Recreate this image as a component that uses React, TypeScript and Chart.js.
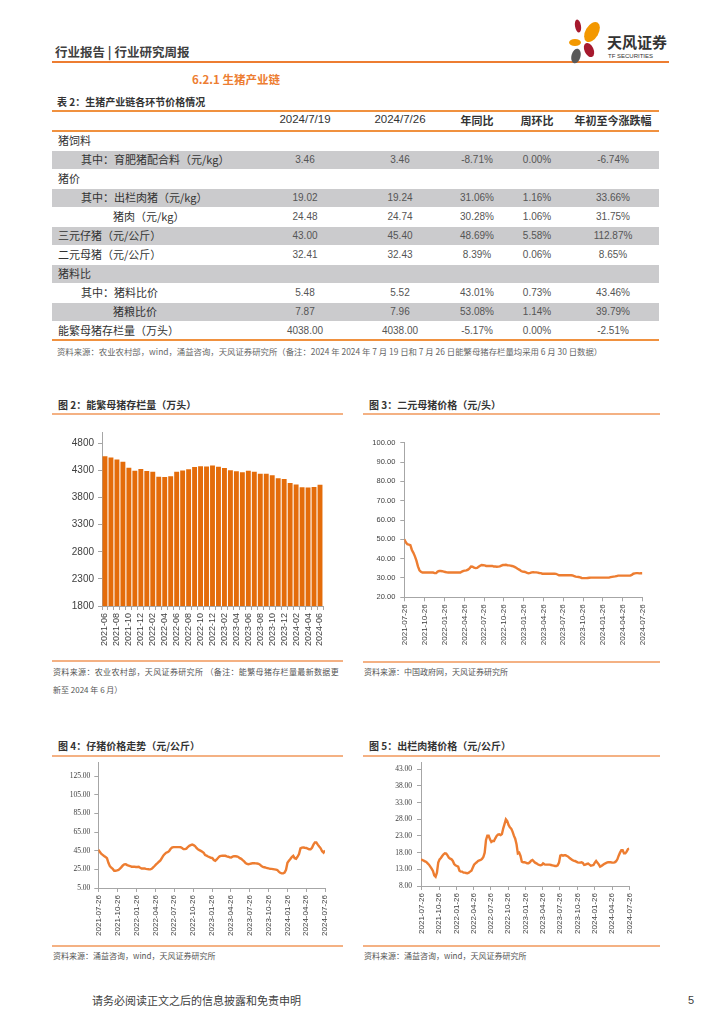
import React, { useEffect, useRef } from 'react';
import { Chart, registerables } from 'chart.js';
Chart.register(...registerables);

// ---------------- DATA ----------------
const tableHeaders = ['2024/7/19', '2024/7/26', '年同比', '周环比', '年初至今涨跌幅'];
const rowLabels = ['猪饲料', '其中：育肥猪配合料（元/kg）', '猪价', '其中：出栏肉猪（元/kg）', '猪肉（元/kg）', '三元仔猪（元/公斤）', '二元母猪（元/公斤）', '猪料比', '其中：猪料比价', '猪粮比价', '能繁母猪存栏量（万头）'];
const rowIndent = [0, 1, 0, 1, 2, 0, 0, 0, 1, 2, 0];
const rowShaded = [false, true, false, true, false, true, false, true, false, true, false];
const col0719 = ['', '3.46', '', '19.02', '24.48', '43.00', '32.41', '', '5.48', '7.87', '4038.00'];
const col0726 = ['', '3.46', '', '19.24', '24.74', '45.40', '32.43', '', '5.52', '7.96', '4038.00'];
const colYoY = ['', '-8.71%', '', '31.06%', '30.28%', '48.69%', '8.39%', '', '43.01%', '53.08%', '-5.17%'];
const colWoW = ['', '0.00%', '', '1.16%', '1.06%', '5.58%', '0.06%', '', '0.73%', '1.14%', '0.00%'];
const colYTD = ['', '-6.74%', '', '33.66%', '31.75%', '112.87%', '8.65%', '', '43.46%', '39.79%', '-2.51%'];

const sowMonths = ['2021-06', '2021-07', '2021-08', '2021-09', '2021-10', '2021-11', '2021-12',
  '2022-01', '2022-02', '2022-03', '2022-04', '2022-05', '2022-06', '2022-07', '2022-08', '2022-09', '2022-10', '2022-11', '2022-12',
  '2023-01', '2023-02', '2023-03', '2023-04', '2023-05', '2023-06', '2023-07', '2023-08', '2023-09', '2023-10', '2023-11', '2023-12',
  '2024-01', '2024-02', '2024-03', '2024-04', '2024-05', '2024-06'];
const sowStock = [4564, 4539, 4501, 4459, 4348, 4296, 4329,
  4290, 4274, 4185, 4177, 4192, 4277, 4298, 4324, 4362, 4379, 4375, 4390,
  4367, 4343, 4305, 4284, 4268, 4296, 4274, 4241, 4240, 4210, 4158, 4142,
  4067, 4042, 3992, 3986, 3996, 4038];
const sowStockTicks = [1800, 2300, 2800, 3300, 3800, 4300, 4800];

const weekStart = '2021-07-23';
const weekEnd = '2024-07-26';
const quarterTicks = ['2021-07-26', '2021-10-26', '2022-01-26', '2022-04-26', '2022-07-26', '2022-10-26', '2023-01-26', '2023-04-26', '2023-07-26', '2023-10-26', '2024-01-26', '2024-04-26', '2024-07-26'];

// 二元母猪价格 weekly
const sowPrice = [
  50.0, 48.5, 47.5, 47.3, 47.0, 44.5, 43.0, 41.2, 39.0, 36.0,
  34.0, 33.2, 32.8, 32.8, 32.9, 32.8, 32.9, 32.8, 32.8, 32.8,
  32.5, 32.5, 33.3, 33.6, 33.6, 33.5, 33.3, 33.1, 32.9, 32.8,
  32.8, 32.8, 32.8, 32.8, 32.8, 32.8, 32.8, 32.8, 33.3, 33.7,
  33.8, 33.9, 34.3, 35.0, 35.9, 35.8, 35.3, 35.1, 35.2, 35.8,
  36.3, 36.7, 36.6, 36.5, 36.2, 36.2, 36.2, 36.2, 36.2, 35.9,
  35.9, 35.8, 35.9, 36.0, 36.4, 36.7, 36.7, 36.8, 36.6, 36.5,
  36.4, 36.2, 36.0, 35.6, 35.2, 34.6, 34.2, 33.6, 33.3, 33.2,
  33.0, 32.6, 32.4, 32.6, 32.9, 33.0, 32.9, 32.9, 32.8, 32.6,
  32.5, 32.2, 32.2, 32.2, 32.2, 32.2, 32.2, 32.2, 32.2, 32.2,
  32.1, 31.8, 31.4, 31.4, 31.4, 31.4, 31.4, 31.4, 31.4, 31.4,
  31.4, 31.3, 31.0, 30.7, 30.6, 30.5, 30.3, 30.0, 29.9, 29.9,
  29.9, 30.0, 30.1, 30.2, 30.2, 30.2, 30.2, 30.2, 30.2, 30.2,
  30.2, 30.2, 30.2, 30.2, 30.2, 30.2, 30.4, 30.6, 30.7, 30.8,
  31.0, 31.2, 31.2, 31.2, 31.2, 31.2, 31.2, 31.2, 31.2, 31.2,
  31.6, 32.2, 32.4, 32.5, 32.5, 32.4, 32.41, 32.43];
const sowPriceTicks = [20, 30, 40, 50, 60, 70, 80, 90, 100];

// 仔猪价格 weekly
const pigletPrice = [
  46.0, 44.0, 41.8, 40.6, 39.4, 38.3, 37.0, 32.0, 28.5, 26.8,
  25.5, 23.6, 23.6, 23.9, 24.5, 25.7, 27.4, 29.2, 30.4, 30.6,
  29.6, 29.1, 28.6, 27.9, 27.9, 27.9, 27.6, 27.6, 27.8, 26.8,
  26.0, 26.0, 26.0, 25.5, 25.3, 25.1, 25.0, 25.6, 27.2, 28.6,
  30.4, 31.7, 33.2, 34.6, 37.2, 39.8, 41.5, 42.9, 43.4, 44.5,
  46.9, 48.4, 48.9, 48.9, 48.9, 48.9, 48.9, 48.8, 48.0, 46.8,
  46.8, 47.3, 49.0, 50.3, 51.0, 51.7, 51.0, 50.0, 48.0, 46.5,
  45.7, 44.9, 44.0, 42.8, 40.4, 39.7, 38.8, 38.1, 37.5, 37.1,
  35.0, 34.2, 35.7, 37.5, 39.0, 39.5, 39.6, 39.6, 39.6, 39.0,
  38.6, 37.9, 37.8, 38.6, 39.2, 39.1, 38.9, 38.3, 37.1, 36.3,
  34.9, 33.6, 31.9, 30.9, 30.5, 30.9, 31.3, 31.7, 31.6, 31.4,
  31.3, 31.0, 30.1, 28.6, 27.8, 27.3, 26.8, 26.4, 26.0, 25.7,
  25.5, 25.3, 25.0, 24.7, 24.3, 22.7, 21.3, 20.7, 20.7, 21.5,
  24.5, 32.2, 34.2, 36.1, 38.3, 39.6, 37.0, 36.4, 38.6, 41.5,
  47.5, 48.3, 48.5, 48.2, 48.0, 47.3, 46.6, 46.5, 48.2, 51.5,
  53.9, 53.9, 51.6, 49.5, 47.6, 44.5, 43.0, 45.4];
const pigletTicks = [5, 25, 45, 65, 85, 105, 125];

// 出栏肉猪价格 weekly
const hogPrice = [
  16.0, 15.8, 15.6, 15.4, 15.2, 14.8, 14.4, 13.8, 13.2, 12.5,
  11.2, 10.8, 12.0, 15.0, 16.0, 16.4, 17.0, 17.5, 17.8, 17.7,
  17.2, 16.5, 16.2, 16.0, 15.5, 14.6, 14.2, 14.0, 13.8, 12.6,
  12.3, 12.3, 12.0, 12.0, 11.9, 11.8, 12.0, 12.3, 12.6, 13.5,
  14.4, 14.8, 15.1, 15.5, 15.7, 15.8, 16.1, 16.7, 18.0, 21.8,
  23.1, 23.1, 22.0, 21.2, 21.5, 21.5, 22.3, 23.0, 23.4, 23.5,
  23.3, 23.6, 25.3, 26.6, 28.0, 27.5, 26.3, 25.6, 25.2, 24.3,
  23.1, 22.2, 20.5, 17.8, 18.0, 17.0, 15.3, 15.1, 15.1, 15.0,
  14.8, 14.8, 15.1, 15.6, 15.8, 15.4, 15.0, 14.8, 14.5, 14.3,
  14.2, 14.3, 14.8, 14.5, 14.4, 14.4, 14.4, 14.4, 14.3, 14.2,
  14.1, 14.0, 14.0, 14.2, 15.0, 17.1, 17.3, 17.1, 17.2, 17.2,
  17.0, 16.8, 16.4, 16.1, 15.8, 15.6, 15.5, 15.3, 15.1, 15.0,
  15.0, 15.1, 14.9, 14.3, 14.4, 14.6, 14.7, 14.4, 14.1, 14.2,
  14.3, 15.0, 15.5, 15.0, 14.5, 13.8, 14.0, 14.3, 14.6, 14.8,
  15.0, 15.1, 15.1, 15.1, 15.0, 15.0, 15.1, 15.4, 16.0, 17.1,
  18.0, 18.7, 18.7, 17.8, 17.8, 18.3, 19.02, 19.24];
const hogTicks = [8, 13, 18, 23, 28, 33, 38, 43];

// ---------------- STYLE ----------------
const BAR_COLOR = '#E46C0A';
const LINE_COLOR = '#ED7D31';
const AXIS_COLOR = '#A6A6A6';
const TICK_COLOR = '#404040';
const SANS = '"Liberation Sans", Arial, sans-serif';
const SERIF = '"Liberation Serif", "Times New Roman", serif';
const CJK = '"Noto Sans CJK SC", sans-serif';

const dayOf = (s: string) => Date.UTC(+s.slice(0, 4), +s.slice(5, 7) - 1, +s.slice(8, 10)) / 86400000;
const base = dayOf(weekStart);
const spanDays = dayOf(weekEnd) - base;
const toWeekly = (vals: number[]) => vals.map((y, i) => ({ x: i * 7, y }));

function yScale(min: number, max: number, ticks: number[], width: number, family: string, size: number, decimals: boolean, padding: number) {
  return {
    type: 'linear', min, max,
    afterBuildTicks: (s: any) => { s.ticks = ticks.map((v) => ({ value: v })); },
    afterFit: (s: any) => { s.width = width; },
    grid: { drawOnChartArea: false, drawTicks: true, tickLength: 4, color: AXIS_COLOR },
    border: { display: true, color: AXIS_COLOR, width: 1 },
    ticks: { font: { family, size }, color: TICK_COLOR, padding, callback: (v: any) => (decimals ? Number(v).toFixed(2) : String(v)) },
  };
}

function xDateScale(height: number, size: number) {
  return {
    type: 'linear', min: 0, max: spanDays,
    afterBuildTicks: (s: any) => { s.ticks = quarterTicks.map((d) => ({ value: dayOf(d) - base })); },
    afterFit: (s: any) => { s.height = height; },
    grid: { drawOnChartArea: false, drawTicks: true, tickLength: 4, color: AXIS_COLOR },
    border: { display: true, color: AXIS_COLOR, width: 1 },
    ticks: { autoSkip: false, minRotation: 90, maxRotation: 90, padding: 3, font: { family: SANS, size }, color: TICK_COLOR, callback: (_v: any, i: number) => quarterTicks[i] },
  };
}

function lineConfig(values: number[], y: any, x: any, padding: any) {
  return {
    type: 'line',
    data: { datasets: [{ data: toWeekly(values), borderColor: LINE_COLOR, borderWidth: 2.4, pointRadius: 0, fill: false, tension: 0 }] },
    options: {
      responsive: false, animation: false,
      plugins: { legend: { display: false }, tooltip: { enabled: false } },
      layout: { padding },
      scales: { x, y },
    },
  };
}

function barConfig() {
  return {
    type: 'bar',
    data: { labels: sowMonths, datasets: [{ data: sowStock, backgroundColor: BAR_COLOR, borderWidth: 0, barPercentage: 0.82, categoryPercentage: 1 }] },
    options: {
      responsive: false, animation: false,
      plugins: { legend: { display: false }, tooltip: { enabled: false } },
      layout: { padding: { left: 0, top: 12.5, right: 19, bottom: 0 } },
      scales: {
        x: {
          type: 'category',
          afterFit: (s: any) => { s.height = 49; },
          grid: { drawOnChartArea: false, drawTicks: true, tickLength: 4, color: AXIS_COLOR, offset: true },
          border: { display: true, color: AXIS_COLOR, width: 1 },
          ticks: { autoSkip: false, minRotation: 90, maxRotation: 90, padding: 3, font: { family: SANS, size: 9 }, color: TICK_COLOR, callback: (_v: any, i: number) => (i % 2 === 0 ? sowMonths[i] : '') },
        },
        y: yScale(1800, 5000, sowStockTicks, 50, SANS, 10, false, 4),
      },
    },
  };
}

function ChartCanvas({ left, top, width, height, build }: any) {
  const ref = useRef<HTMLCanvasElement>(null);
  useEffect(() => {
    const chart = new Chart(ref.current as HTMLCanvasElement, build());
    return () => chart.destroy();
  }, []);
  return <canvas ref={ref} width={width} height={height} style={{ position: 'absolute', left, top, width, height }} />;
}

function Txt({ x, y, size, children, color = '#333', weight = 400, align = 'left', family, spacing }: any) {
  const style: any = {
    position: 'absolute', left: x, top: y - size * 0.75, fontSize: size, lineHeight: `${size * 1.5}px`,
    color, fontWeight: weight, whiteSpace: 'nowrap',
  };
  if (spacing !== undefined) style.letterSpacing = spacing;
  if (align === 'center') style.transform = 'translateX(-50%)';
  if (family) style.fontFamily = family;
  return <div style={style}>{children}</div>;
}

function HLine({ x, y, w, h = 2, color }: any) {
  return <div style={{ position: 'absolute', left: x, top: y, width: w, height: h, background: color }} />;
}

const colCenters = [305, 400, 477, 537, 613];
const indentX = [58, 81, 113];
const ROW_TOP = 131;
const ROW_H = 19;

export default function App() {
  const dataCols = [col0719, col0726, colYoY, colWoW, colYTD];
  return (
    <div style={{ position: 'absolute', left: 0, top: 0, width: 724, height: 1024, background: '#fff', fontFamily: CJK, overflow: 'hidden' }}>
      {/* header */}
      <Txt x={55} y={52} size={12.5} weight={700} color="#404040">行业报告 | 行业研究周报</Txt>
      <HLine x={52} y={60.5} w={617} h={2} color="#ED7D31" />
      <svg style={{ position: 'absolute', left: 566, top: 18 }} width={40} height={46} viewBox="0 0 40 46">
        <ellipse cx={12} cy={8} rx={3} ry={6.5} fill="#A6192E" transform="rotate(-10 12 8)" />
        <ellipse cx={26} cy={14} rx={6.5} ry={11} fill="#F39800" transform="rotate(30 26 14)" />
        <ellipse cx={9} cy={24.5} rx={6} ry={3.5} fill="#F39800" />
        <ellipse cx={23} cy={32} rx={4.5} ry={7.5} fill="#A6192E" transform="rotate(-25 23 32)" />
        <ellipse cx={10} cy={38} rx={4.5} ry={7.5} fill="#595959" transform="rotate(15 10 38)" />
      </svg>
      <Txt x={607} y={42} size={15} weight={700} color="#333">天风证券</Txt>
      <Txt x={608} y={56} size={6} color="#333" family={SANS}>TF SECURITIES</Txt>

      <Txt x={192} y={80} size={11.5} weight={700} color="#ED7D31">6.2.1 生猪产业链</Txt>

      {/* table */}
      <Txt x={57} y={101.5} size={10} weight={700} color="#333">表 2：生猪产业链各环节价格情况</Txt>
      <HLine x={52} y={109.5} w={607} h={2} color="#F0913F" />
      <Txt x={colCenters[0]} y={120} size={11.5} align="center" family={SANS} color="#333">{tableHeaders[0]}</Txt>
      <Txt x={colCenters[1]} y={120} size={11.5} align="center" family={SANS} color="#333">{tableHeaders[1]}</Txt>
      <Txt x={colCenters[2]} y={120} size={11} weight={700} align="center" color="#333">{tableHeaders[2]}</Txt>
      <Txt x={colCenters[3]} y={120} size={11} weight={700} align="center" color="#333">{tableHeaders[3]}</Txt>
      <Txt x={colCenters[4]} y={120} size={11} weight={700} align="center" color="#333">{tableHeaders[4]}</Txt>
      <HLine x={52} y={129.5} w={607} h={2} color="#F0913F" />
      {rowLabels.map((lab, i) => (
        <React.Fragment key={i}>
          {rowShaded[i] && <div style={{ position: 'absolute', left: 52, top: ROW_TOP + ROW_H * i + 0.5, width: 607, height: 18, background: '#CBCBCD' }} />}
          <Txt x={indentX[rowIndent[i]]} y={ROW_TOP + ROW_H * i + 9.5} size={11} color="#333">{lab}</Txt>
          {dataCols.map((col, j) => col[i] ? (
            <Txt key={j} x={colCenters[j]} y={ROW_TOP + ROW_H * i + 9.5} size={10} align="center" family={SANS} color="#555">{col[i]}</Txt>
          ) : null)}
        </React.Fragment>
      ))}
      <HLine x={52} y={338.5} w={607} h={2} color="#F0913F" />
      <Txt x={57} y={351} size={8.4} color="#666">资料来源：农业农村部，wind，涌益咨询，天风证券研究所（备注：2024 年 2024 年 7 月 19 日和 7 月 26 日能繁母猪存栏量均采用 6 月 30 日数据）</Txt>

      {/* chart 2 */}
      <Txt x={58} y={404} size={10} weight={700} color="#333">图 2：能繁母猪存栏量（万头）</Txt>
      <HLine x={52} y={413} w={291} h={2} color="#F4B183" />
      <ChartCanvas left={52} top={420} width={290} height={235} build={barConfig} />
      <HLine x={52} y={660} w={291} h={1.5} color="#F4B183" />
      <Txt x={53} y={672} size={8} color="#555" spacing={0.35}>资料来源：农业农村部，天风证券研究所 （备注：能繁母猪存栏量最新数据更</Txt>
      <Txt x={53} y={690} size={8} color="#555">新至 2024 年 6 月）</Txt>

      {/* chart 3 */}
      <Txt x={369} y={404} size={10} weight={700} color="#333">图 3：二元母猪价格（元/头）</Txt>
      <HLine x={363} y={413} w={297} h={2} color="#F4B183" />
      <ChartCanvas left={360} top={430} width={295} height={230}
        build={() => lineConfig(sowPrice, yScale(20, 100, sowPriceTicks, 44.3, SANS, 7.5, true, 5), xDateScale(62.7, 8), { left: 0, top: 12.7, right: 11.7, bottom: 0 })} />
      <HLine x={363} y={661} w={297} h={1.5} color="#F4B183" />
      <Txt x={364} y={672} size={8} color="#555">资料来源：中国政府网，天风证券研究所</Txt>

      {/* chart 4 */}
      <Txt x={58} y={745.5} size={10} weight={700} color="#333">图 4：仔猪价格走势（元/公斤）</Txt>
      <HLine x={52} y={754.5} w={291} h={2} color="#F4B183" />
      <ChartCanvas left={40} top={750} width={300} height={192}
        build={() => lineConfig(pigletPrice, yScale(5, 140, pigletTicks, 58.3, SERIF, 7.5, true, 4), xDateScale(54, 8), { left: 0, top: 12.3, right: 15, bottom: 0 })} />
      <HLine x={52} y={945} w={291} h={1.5} color="#F4B183" />
      <Txt x={53} y={956} size={8} color="#555">资料来源：涌益咨询，wind，天风证券研究所</Txt>

      {/* chart 5 */}
      <Txt x={369} y={745.5} size={10} weight={700} color="#333">图 5：出栏肉猪价格（元/公斤）</Txt>
      <HLine x={363} y={754.5} w={297} h={2} color="#F4B183" />
      <ChartCanvas left={360} top={750} width={295} height={192}
        build={() => lineConfig(hogPrice, yScale(8, 45, hogTicks, 61, SERIF, 7.5, true, 5), xDateScale(56, 8), { left: 0, top: 12.6, right: 25.7, bottom: 0 })} />
      <HLine x={363} y={945} w={297} h={1.5} color="#F4B183" />
      <Txt x={364} y={956} size={8} color="#555">资料来源：涌益咨询，wind，天风证券研究所</Txt>

      {/* footer */}
      <Txt x={92} y={1000} size={11} color="#404040">请务必阅读正文之后的信息披露和免责申明</Txt>
      <Txt x={688} y={1000} size={11} color="#404040" family={SANS}>5</Txt>
    </div>
  );
}
